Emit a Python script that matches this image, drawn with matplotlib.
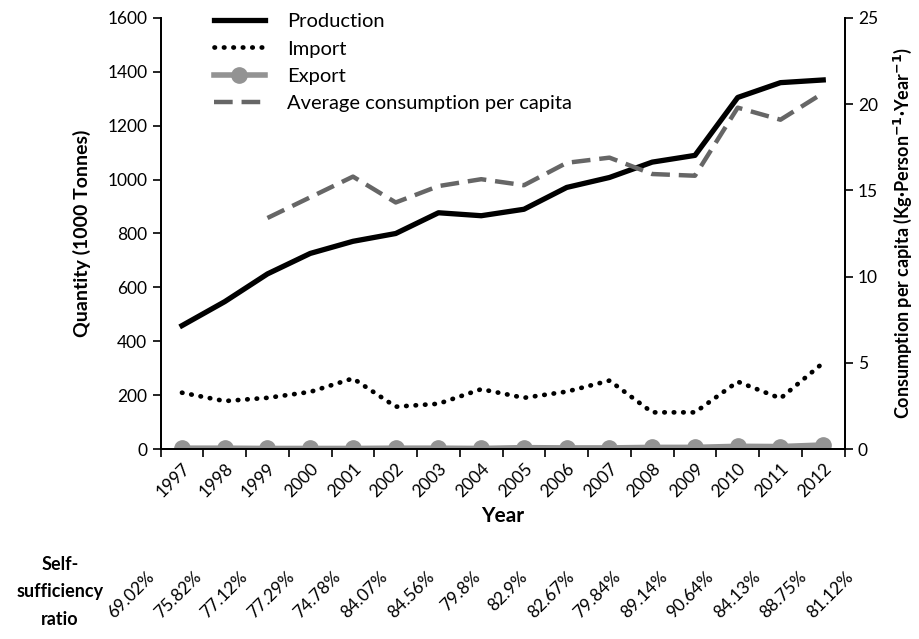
import matplotlib.pyplot as plt
import numpy as np

plt.rcParams['font.family'] = ['Lato', 'DejaVu Sans']

anos = ['1997', '1998', '1999', '2000', '2001', '2002', '2003', '2004',
        '2005', '2006', '2007', '2008', '2009', '2010', '2011', '2012']
producao = [458, 547, 650, 726, 771, 800, 877, 866, 890, 971, 1008, 1065, 1090, 1305, 1360, 1370]
importacao = [209, 178, 190, 212, 262, 157, 168, 222, 190, 213, 254, 136, 136, 250, 188, 320]
exportacao = [3, 3, 2, 2, 2, 3, 3, 2, 5, 4, 4, 6, 6, 10, 9, 15]
consumo = [np.nan, np.nan, 13.4, 14.6, 15.8, 14.3, 15.25, 15.65, 15.3, 16.6, 16.9, 15.95, 15.85, 19.8, 19.1, 20.65]
autossuficiencia = ['69.02%', '75.82%', '77.12%', '77.29%', '74.78%', '84.07%', '84.56%', '79.8%',
                    '82.9%', '82.67%', '79.84%', '89.14%', '90.64%', '84.13%', '88.75%', '81.12%']

W, H = 919, 639
fig = plt.figure(figsize=(W / 100, H / 100), dpi=100)
ax = fig.add_axes([160.6 / W, 1 - 449 / H, 684 / W, 431 / H])
ax2 = ax.twinx()

x = np.arange(len(anos))

l_exp, = ax.plot(x, exportacao, color='#939393', lw=4, marker='o', markersize=11,
                 label='Export', zorder=2)
l_imp, = ax.plot(x, importacao, color='black', lw=3.4, linestyle=(0, (0.1, 1.9)),
                 dash_capstyle='round', label='Import', zorder=3)
l_prod, = ax.plot(x, producao, color='black', lw=3.8, label='Production', zorder=4)
l_cons, = ax2.plot(x, consumo, color='#666666', lw=3.2, linestyle=(0, (4.2, 2.0)),
                   label='Average consumption per capita')

ax.set_xlim(-0.5, len(anos) - 0.5)
ax.set_ylim(0, 1600)
ax.set_yticks(range(0, 1601, 200))
ax2.set_ylim(0, 25)
ax2.set_yticks(range(0, 26, 5))

ax.set_xticks(x)
ax.set_xticklabels(anos, rotation=45, ha='right', rotation_mode='anchor')
ax.set_xticks(np.arange(-0.5, len(anos)), minor=True)
ax.tick_params(axis='x', which='major', length=0, pad=8, labelsize=12.5)
ax.tick_params(axis='x', which='minor', length=6, width=1.2, direction='out')
ax.tick_params(axis='y', length=6, width=1.2, labelsize=12.5, direction='out')
ax2.tick_params(axis='y', length=6, width=1.2, labelsize=12.5, direction='out')

for a in (ax, ax2):
    a.spines['top'].set_visible(False)
    for s in ('left', 'right', 'bottom'):
        a.spines[s].set_linewidth(1.3)

ax.set_xlabel('Year', fontsize=15, fontweight='bold', labelpad=4)
ax.set_ylabel('Quantity (1000 Tonnes)', fontsize=14, fontweight='bold', labelpad=12)
ax2.set_ylabel('Consumption per capita (Kg·Person$^{\\mathbf{-1}}$·Year$^{\\mathbf{-1}}$)',
               fontsize=13, fontweight='bold', labelpad=10)

ax.legend(handles=[l_prod, l_imp, l_exp, l_cons], loc='upper left',
          bbox_to_anchor=(0.052, 1.053), frameon=False, fontsize=14.5,
          handlelength=2.5, handletextpad=1.1, labelspacing=0.5)

# tabela de autossuficiência
fig.text(60 / W, 1 - 592 / H, 'Self-\nsufficiency\nratio', ha='center', va='center',
         fontsize=13, fontweight='bold', linespacing=1.75)
for i, txt in enumerate(autossuficiencia):
    fig.text((152 + i * 46.6) / W, 1 - 574 / H, txt, rotation=45, ha='right', va='center',
             rotation_mode='anchor', fontsize=12.5)

fig.savefig('out.png', dpi=100)
